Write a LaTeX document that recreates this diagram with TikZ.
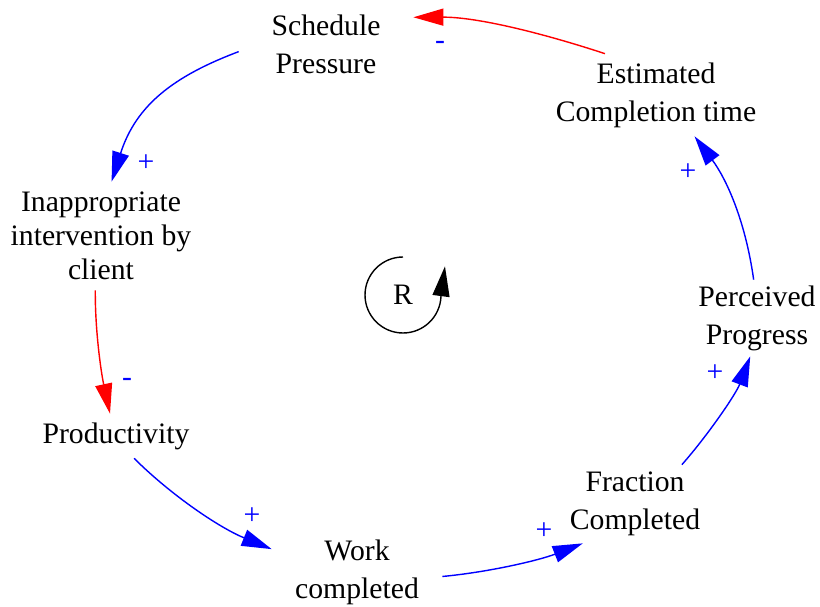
\documentclass[tikz,border=0pt]{standalone}
\usepackage{fontspec}
\setmainfont{Liberation Serif}
\usetikzlibrary{arrows.meta}
\begin{document}
\begin{tikzpicture}[
        x=0.02cm, y=-0.02cm,
        >={Triangle[length=0.6cm,width=0.34cm]},
        every node/.style={font=\fontsize{16.9}{21.6}\selectfont, align=center, inner sep=0},
        poslink/.style={blue, line width=0.8pt, ->},
        neglink/.style={red, line width=0.8pt, ->},
        polarity/.style={text=blue},
        ]
        \useasboundingbox (0,0) rectangle (820,607);

        % Variables
        \node[minimum width=3.48cm, minimum height=1.4cm] (sched) at (326,44) {Schedule\\Pressure};
        \node[minimum width=4.2cm, minimum height=1.64cm] (est) at (656,95) {Estimated\\Completion time};
        \node[minimum width=3.6cm, minimum height=2.16cm, font=\fontsize{16.9}{19.4}\selectfont] (inapp) at (101,236) {Inappropriate\\intervention by\\client};
        \node[minimum width=3.0cm, minimum height=0.88cm] (prod) at (116,436) {Productivity};
        \node[minimum width=3.4cm, minimum height=1.6cm] (work) at (357,572) {Work\\completed};
        \node[minimum width=2.48cm, minimum height=1.56cm] (frac) at (635,504) {Fraction\\Completed};
        \node[minimum width=2.48cm, minimum height=1.52cm] (perc) at (757,318) {Perceived\\Progress};
        \node (r) at (403,295) {R};

        % Links
        \draw[neglink] (est.141) .. controls (542,33) and (477,17) .. (sched.17);
        \draw[poslink] (sched.185) .. controls (174,76) and (136,105) .. (inapp.79);
        \draw[neglink] (inapp.264) .. controls (95,330) and (101,372) .. (prod.105);
        \draw[poslink] (prod.309) .. controls (172,496) and (220,528) .. (work.165);
        \draw[poslink] (work.357) .. controls (490,572) and (540,560) .. (frac.217);
        \draw[poslink] (frac.40) .. controls (708,435) and (736,394) .. (perc.260);
        \draw[poslink] (perc.95) .. controls (745,218) and (725,177) .. (est.313);

        % Polarities
        \node[polarity] (s1) at (440,45) {-};
        \node[polarity] (s2) at (146,163) {+};
        \node[polarity] (s3) at (127,382) {-};
        \node[polarity] (s4) at (252,516) {+};
        \node[polarity] (s5) at (544,531) {+};
        \node[polarity] (s6) at (715,373) {+};
        \node[polarity] (s7) at (688,172) {+};

        % Loop marker
        \draw[->, line width=0.8pt] ([yshift=0.76cm]r.center) arc[start angle=90, end angle=358, radius=0.76cm] -- ++(4,-30);
    \end{tikzpicture}
\end{document}
